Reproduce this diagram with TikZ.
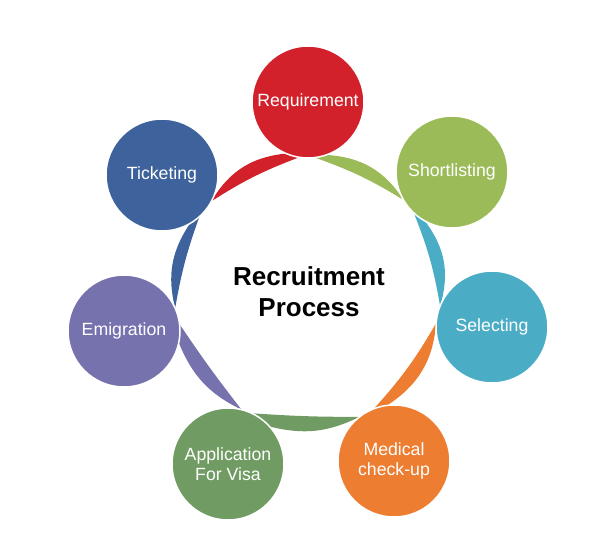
\documentclass[tikz,border=0pt]{standalone}
\usepackage{fontspec}
\setmainfont{Liberation Sans}
\usepackage{tikz}
\usetikzlibrary{backgrounds}
\definecolor{reqRed}{RGB}{211,33,44}
\definecolor{shortGreen}{RGB}{155,187,89}
\definecolor{selBlue}{RGB}{75,172,198}
\definecolor{medOrange}{RGB}{237,125,49}
\definecolor{visaGreen}{RGB}{112,155,99}
\definecolor{emigPurple}{RGB}{118,114,173}
\definecolor{tickBlue}{RGB}{62,98,155}
\begin{document}
\begin{tikzpicture}[x=1pt,y=1pt,
  stage/.style={circle,draw=white,line width=1.5pt,minimum size=112pt,inner sep=0pt,outer sep=0pt,
    text=white,align=center,font=\fontsize{17.7}{20}\selectfont}]

\useasboundingbox (0,0) rectangle (605,553);

\node[stage,fill=reqRed] (req) at (308,451) {Requirement};
\node[stage,fill=shortGreen] (short) at (452,381) {Shortlisting};
\node[stage,fill=selBlue] (sel) at (492,226) {Selecting};
\node[stage,fill=medOrange] (med) at (394,92) {Medical\\check-up};
\node[stage,fill=visaGreen] (visa) at (228,89) {Application\\For Visa};
\node[stage,fill=emigPurple] (emig) at (124,222) {Emigration};
\node[stage,fill=tickBlue] (tick) at (162,378) {Ticketing};

\node[align=center,font=\fontsize{26}{31}\selectfont\bfseries] (title) at (309,261) {Recruitment\\Process};

% crescents between the circles
\begin{scope}[on background layer]
\fill[reqRed] (tick.-28) to[bend left=27] (req.-113) -- (req.-99) to[bend right=6] (tick.-28);
\fill[shortGreen] (req.-71) to[bend left=27] (short.-150) to[bend right=6] (req.-83) -- cycle;
\fill[selBlue] (short.-119) to[bend left=27] (sel.158) to[bend right=6] (short.-133) -- cycle;
\fill[medOrange] (sel.176) to[bend left=26] (med.97) -- (med.111) to[bend right=6] (sel.176);
\fill[visaGreen] (med.128) to[bend left=20] (visa.42) -- (visa.65) to[bend right=2] (med.128);
\fill[emigPurple] (visa.76) to[bend left=21] (emig.-12) -- (emig.7) to[bend right=2] (visa.76);
\fill[tickBlue] (emig.24) to[bend left=24] (tick.-60) -- (tick.-48) to[bend right=5] (emig.24);
\end{scope}

\end{tikzpicture}
\end{document}
